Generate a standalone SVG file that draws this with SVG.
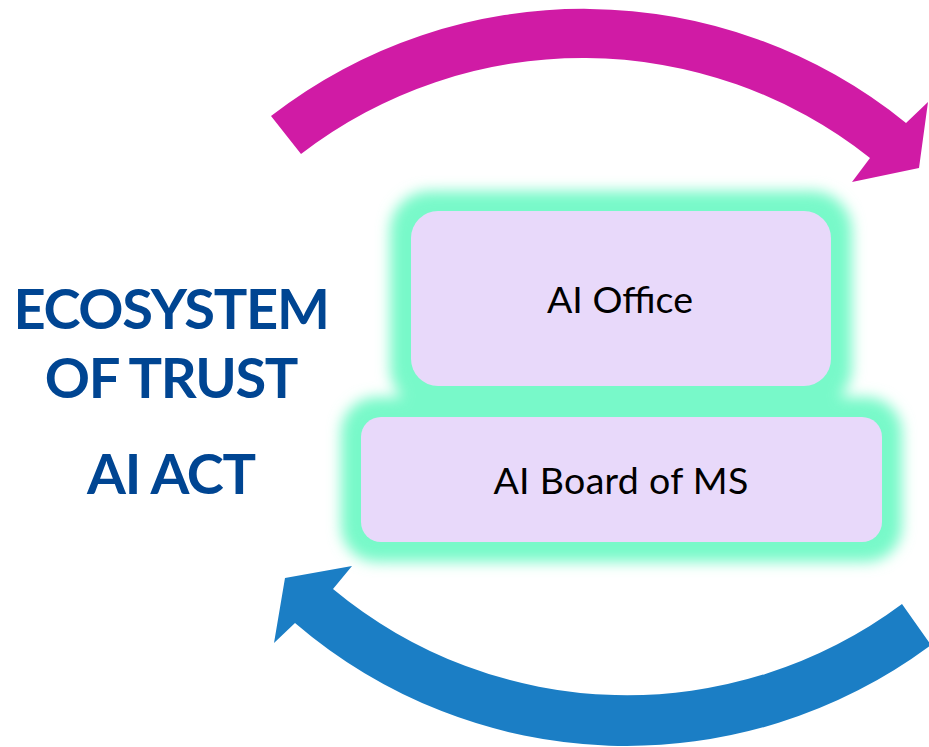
<svg xmlns="http://www.w3.org/2000/svg" width="929" height="747" viewBox="0 0 929 747">
  <defs>
    <style>
      .title { font-family: Lato, "Liberation Sans", sans-serif; font-weight: bold; fill: #004592; font-size: 56px; letter-spacing: -1.3px; text-anchor: middle; }
      .box { fill: #E8D9FA; }
      .glow { fill: #78F9C9; }
      .label { font-family: Lato, "Liberation Sans", sans-serif; fill: #000000; font-size: 37.5px; text-anchor: middle; }
    </style>
    <filter id="blur" x="-20%" y="-30%" width="140%" height="160%">
      <feGaussianBlur stdDeviation="7"/>
    </filter>
  </defs>
  <rect width="929" height="747" fill="#FFFFFF"/>
  <g id="connectors">
    <path id="arrow-top" fill="#D01BA5" d="M 271,116 A 511 511 0 0 1 906,123 L 928,102 L 919,168 L 852,182 L 870,158 A 462 462 0 0 0 301,154 Z"/>
    <path id="arrow-bottom" fill="#1B7EC5" d="M 931,645 A 509 509 0 0 1 295,623 L 274,643 L 285,578 L 352,566 L 333,589 A 460 460 0 0 0 902,604 Z"/>
  </g>
  <g id="title">
    <text class="title" x="171" y="329">ECOSYSTEM</text>
    <text class="title" x="171" y="398">OF TRUST</text>
    <text class="title" x="171" y="494">AI ACT</text>
  </g>
  <g id="glows" filter="url(#blur)">
    <rect class="glow" x="390" y="191" width="462" height="217" rx="40"/>
    <rect class="glow" x="341" y="397" width="561" height="165" rx="36"/>
  </g>
  <g id="node-ai-office">
    <rect class="box" x="411" y="211" width="420" height="175" rx="27"/>
    <text class="label" x="620" y="313">AI Office</text>
  </g>
  <g id="node-ai-board">
    <rect class="box" x="361" y="417" width="521" height="125" rx="20"/>
    <text class="label" x="621" y="494" letter-spacing="0.3">AI Board of MS</text>
  </g>
</svg>
